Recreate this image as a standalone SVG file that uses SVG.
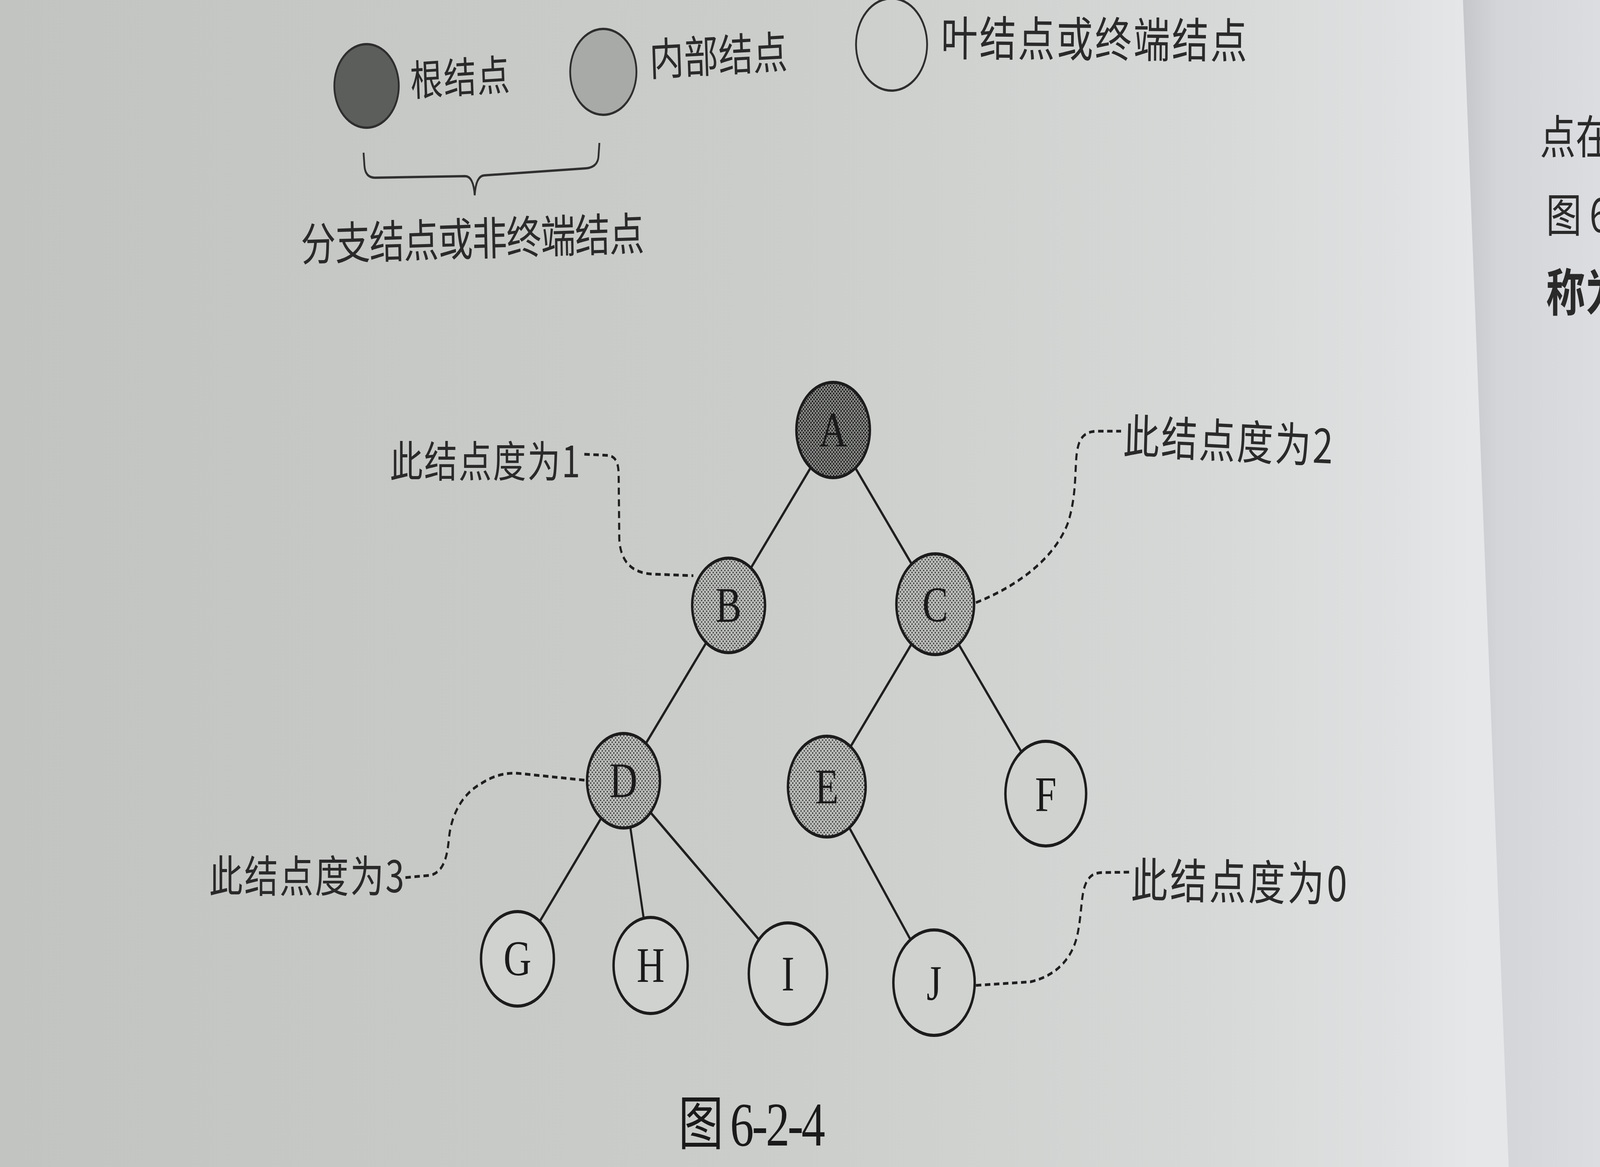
<svg xmlns="http://www.w3.org/2000/svg" width="5312" height="2988" viewBox="0 0 5312 2988" preserveAspectRatio="none" style="width:100vw;height:100vh">
<defs>
  <linearGradient id="paper" gradientUnits="userSpaceOnUse" x1="0" y1="0" x2="5312" y2="0">
    <stop offset="0" stop-color="#c2c4c1"/>
    <stop offset="0.47" stop-color="#cbcdca"/>
    <stop offset="0.75" stop-color="#d6d8d7"/>
    <stop offset="0.87" stop-color="#dfe0e1"/>
    <stop offset="0.92" stop-color="#e6e7e9"/>
  </linearGradient>
  <linearGradient id="page2" gradientUnits="userSpaceOnUse" x1="4860" y1="0" x2="5312" y2="0">
    <stop offset="0" stop-color="#c6c7cb"/>
    <stop offset="0.25" stop-color="#d4d5d9"/>
    <stop offset="1" stop-color="#dcdde0"/>
  </linearGradient>
  <pattern id="dotsLight" patternUnits="userSpaceOnUse" width="11" height="11">
    <rect width="11" height="11" fill="#bcbebb"/>
    <circle cx="3" cy="3" r="2.2" fill="#3c3d3c"/>
    <circle cx="8.5" cy="8.5" r="2.2" fill="#3c3d3c"/>
  </pattern>
  <pattern id="dotsDark" patternUnits="userSpaceOnUse" width="10" height="10">
    <rect width="10" height="10" fill="#8e908d"/>
    <circle cx="2.5" cy="2.5" r="2.6" fill="#202120"/>
    <circle cx="7.5" cy="7.5" r="2.6" fill="#202120"/>
  </pattern>
  <style>
    .edge { stroke: #1f1f1f; stroke-width: 7; fill: none; }
    .dash { stroke: #1f1f1f; stroke-width: 7; fill: none; stroke-dasharray: 18 12; }
    .node { stroke: #1c1c1c; stroke-width: 8; }
    .root { fill: url(#dotsDark); }
    .inner { fill: url(#dotsLight); }
    .leaf { fill: #d0d2cf; }
    .letter { font-family: "Liberation Serif", "Times New Roman", serif; font-size: 128px; fill: #1a1a1a; text-anchor: middle; }
    .cjk { font-family: "Noto Sans CJK SC", "Noto Sans", sans-serif; fill: #2a2a2a; }
    .lg { stroke: #2e2e2e; stroke-width: 6; }
  </style>
</defs>

<!-- paper background -->
<rect x="0" y="0" width="5312" height="2988" fill="url(#paper)"/>
<polygon points="4857,0 5312,0 5312,2988 5009,2988" fill="url(#page2)"/>

<!-- legend -->
<g id="legend-root">
  <circle class="lg" cx="1217" cy="220" r="107" fill="#5c5e5b"/>
  <text class="cjk" x="1364" y="246" font-size="108" textLength="330" transform="rotate(-2.8 1364 246)">根结点</text>
</g>
<g id="legend-inner">
  <circle class="lg" cx="2003" cy="184" r="110" fill="#a8aaa7"/>
  <text class="cjk" x="2158" y="194" font-size="114" textLength="458" transform="rotate(-2.5 2158 194)">内部结点</text>
</g>
<g id="legend-leaf">
  <circle class="lg" cx="2960" cy="114" r="118" fill="none"/>
  <text class="cjk" x="3124" y="142" font-size="122" textLength="1016" transform="rotate(0.4 3124 142)">叶结点或终端结点</text>
</g>
<g id="legend-brace">
  <path d="M1207,391 L1210,425 Q1213,455 1245,455 L1545,451 Q1572,452 1576,500 Q1580,450 1608,449 L1945,431 Q1985,428 1987,400 L1990,366" fill="none" stroke="#303030" stroke-width="6"/>
  <text class="cjk" x="1000" y="668" font-size="116" textLength="1140" transform="rotate(-1.4 1000 668)">分支结点或非终端结点</text>
</g>

<!-- connectors -->
<g id="connectors">
  <line class="edge" x1="2766" y1="1101" x2="2419" y2="1550"/>
  <line class="edge" x1="2766" y1="1101" x2="3105" y2="1547"/>
  <line class="edge" x1="2419" y1="1550" x2="2070" y2="1999"/>
  <line class="edge" x1="3105" y1="1547" x2="2745" y2="2014"/>
  <line class="edge" x1="3105" y1="1547" x2="3472" y2="2032"/>
  <line class="edge" x1="2070" y1="1999" x2="1718" y2="2455"/>
  <line class="edge" x1="2070" y1="1999" x2="2160" y2="2472"/>
  <line class="edge" x1="2070" y1="1999" x2="2616" y2="2493"/>
  <line class="edge" x1="2745" y1="2014" x2="3101" y2="2516"/>
  <path class="dash" d="M1940,1163 L2020,1166 C2048,1170 2054,1190 2054,1220 L2056,1380 C2060,1440 2100,1468 2170,1470 L2302,1474"/>
  <path class="dash" d="M3240,1543 C3380,1500 3500,1430 3545,1340 C3575,1270 3568,1200 3575,1160 C3582,1120 3600,1106 3640,1104 L3722,1104"/>
  <path class="dash" d="M1346,2247 L1430,2241 C1470,2232 1484,2200 1490,2150 C1498,2080 1540,2030 1600,2005 C1640,1985 1680,1978 1720,1980 L1946,1998"/>
  <path class="dash" d="M3240,2523 L3420,2514 C3500,2500 3555,2460 3575,2400 C3592,2345 3588,2290 3605,2262 C3618,2240 3635,2234 3665,2234 L3752,2233"/>
</g>

<!-- nodes -->
<g id="node-A"><circle class="node root" cx="2766" cy="1101" r="122"/><text class="letter" x="2766" y="1143">A</text></g>
<g id="node-B"><circle class="node inner" cx="2419" cy="1550" r="121"/><text class="letter" x="2419" y="1592">B</text></g>
<g id="node-C"><circle class="node inner" cx="3105" cy="1547" r="129"/><text class="letter" x="3105" y="1591">C</text></g>
<g id="node-D"><circle class="node inner" cx="2070" cy="1999" r="121"/><text class="letter" x="2070" y="2041">D</text></g>
<g id="node-E"><circle class="node inner" cx="2745" cy="2014" r="129"/><text class="letter" x="2745" y="2057">E</text></g>
<g id="node-F"><circle class="node leaf" cx="3472" cy="2032" r="134"/><text class="letter" x="3472" y="2076">F</text></g>
<g id="node-G"><circle class="node leaf" cx="1718" cy="2455" r="121"/><text class="letter" x="1718" y="2497">G</text></g>
<g id="node-H"><circle class="node leaf" cx="2160" cy="2472" r="123"/><text class="letter" x="2160" y="2514">H</text></g>
<g id="node-I"><circle class="node leaf" cx="2616" cy="2493" r="130"/><text class="letter" x="2616" y="2536">I</text></g>
<g id="node-J"><circle class="node leaf" cx="3101" cy="2516" r="135"/><text class="letter" x="3101" y="2560">J</text></g>

<!-- callout labels -->
<g id="label-B"><text class="cjk" x="1294" y="1222" font-size="110" textLength="632">此结点度为1</text></g>
<g id="label-C"><text class="cjk" x="3728" y="1160" font-size="120" textLength="696" transform="rotate(2.2 3728 1160)">此结点度为2</text></g>
<g id="label-D"><text class="cjk" x="694" y="2285" font-size="112" textLength="648">此结点度为3</text></g>
<g id="label-J"><text class="cjk" x="3754" y="2298" font-size="122" textLength="718" transform="rotate(0.8 3754 2298)">此结点度为0</text></g>

<!-- caption -->
<g id="caption">
  <text x="2252" y="2930" fill="#1a1a1a"><tspan font-family="Noto Sans CJK SC, sans-serif" font-size="150">图</tspan><tspan x="2424" y="2933" font-family="Liberation Serif, serif" font-size="158" textLength="316">6-2-4</tspan></text>
</g>

<!-- facing page text (cut off in the photo) -->
<g id="facing-page">
  <text class="cjk" x="5113" y="394" font-size="118" fill="#3a3a3a">点在</text>
  <text class="cjk" x="5133" y="594" font-size="118" fill="#3a3a3a">图 6</text>
  <text class="cjk" x="5133" y="796" font-size="130" font-weight="bold" fill="#2a2a2a">称为</text>
</g>
</svg>
